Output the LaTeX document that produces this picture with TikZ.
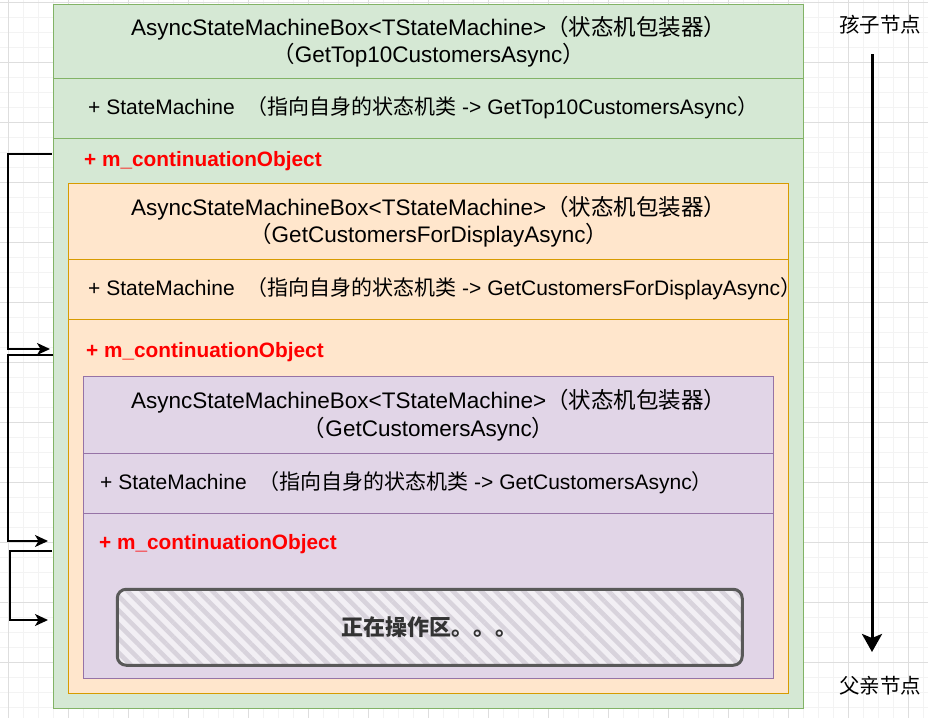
\documentclass[tikz,border=0pt]{standalone}
\usepackage{fontspec}
\setmainfont{Liberation Sans}
\newfontfamily\zhfont{Noto Sans CJK SC}
\usetikzlibrary{arrows.meta,patterns.meta}
\newcommand\zh[1]{{\zhfont #1}}
\definecolor{grnF}{HTML}{D5E8D4}
\definecolor{grnS}{HTML}{82B366}
\definecolor{orgF}{HTML}{FFE6CC}
\definecolor{orgS}{HTML}{D79B00}
\definecolor{purF}{HTML}{E1D5E7}
\definecolor{purS}{HTML}{9673A6}
\definecolor{hatchBg}{HTML}{F2EFF4}
\definecolor{hatchLn}{HTML}{D8D3DC}
\definecolor{hatchDr}{HTML}{595959}
\definecolor{gridMaj}{HTML}{DEDEDE}
\definecolor{gridMin}{HTML}{F3F3F3}
\begin{document}
\begin{tikzpicture}[x=1pt,y=-1pt,
  panel/.style={draw=#1S, fill=#1F, line width=1.3pt, rectangle, inner sep=0pt, anchor=north west},
  hdr/.style={align=center, inner sep=0pt, font=\fontsize{22.5pt}{27.5pt}\selectfont},
  rowtxt/.style={anchor=west, inner sep=0pt, font=\fontsize{21pt}{25pt}\selectfont},
  redtxt/.style={anchor=west, inner sep=0pt, text=red, font=\bfseries\fontsize{20.8pt}{24pt}\selectfont},
  conn/.style={draw=black, line width=1.5pt, -{Stealth[length=13pt,width=12pt,inset=3.5pt]}},
  bigarrow/.style={draw=black, line width=3pt, -{Stealth[length=18pt,width=20pt,inset=4pt]}},
  sidelabel/.style={inner sep=0pt, font=\zhfont\fontsize{20.5pt}{25pt}\selectfont},
  workbox/.style={draw=hatchDr, line width=3pt, rounded corners=9pt, anchor=north west,
    preaction={fill=hatchBg}, pattern={Lines[angle=-45,distance=10pt,line width=4.5pt]}, pattern color=hatchLn,
    inner sep=0pt, text=black!80, font=\zhfont\bfseries\fontsize{22pt}{26pt}\selectfont}
]
\useasboundingbox (0,0) rectangle (928,718);
\fill[white] (0,0) rectangle (928,718);
% grid
\foreach \gx in {8,23,...,923} \draw[gridMin, line width=0.6pt] (\gx,0) -- (\gx,718);
\foreach \gy in {2,17,...,717} \draw[gridMin, line width=0.6pt] (0,\gy) -- (928,\gy);
\foreach \gx in {8,68,...,908} \draw[gridMaj, line width=0.8pt] (\gx,0) -- (\gx,718);
\foreach \gy in {2,62,...,662} \draw[gridMaj, line width=0.8pt] (0,\gy) -- (928,\gy);

% green (outer) box
\node[panel=grn, minimum width=750pt, minimum height=74pt] (gHead) at (53,4) {};
\node[panel=grn, minimum width=750pt, minimum height=60pt] (gRow) at (53,78) {};
\node[panel=grn, minimum width=750pt, minimum height=570pt] (gBody) at (53,138) {};
\node[hdr] (gTitle) at (gHead.center) {AsyncStateMachineBox<TStateMachine>\zh{（状态机包装器）}\\\zh{（}GetTop10CustomersAsync\zh{）}};
\node[rowtxt] (gSM) at (88,108) {+ StateMachine \ \zh{（指向自身的状态机类} -> GetTop10CustomersAsync\zh{）}};
\node[redtxt] (gCont) at (84,161) {+ m\_continuationObject};

% orange (middle) box
\node[panel=org, minimum width=720pt, minimum height=76pt] (oHead) at (68,183) {};
\node[panel=org, minimum width=720pt, minimum height=60pt] (oRow) at (68,259) {};
\node[panel=org, minimum width=720pt, minimum height=374pt] (oBody) at (68,319) {};
\node[hdr] (oTitle) at (oHead.center) {AsyncStateMachineBox<TStateMachine>\zh{（状态机包装器）}\\\zh{（}GetCustomersForDisplayAsync\zh{）}};
\node[rowtxt] (oSM) at (88,289) {+ StateMachine \ \zh{（指向自身的状态机类} -> GetCustomersForDisplayAsync\zh{）}};
\node[redtxt] (oCont) at (86,352) {+ m\_continuationObject};

% purple (inner) box
\node[panel=pur, minimum width=690pt, minimum height=77pt] (pHead) at (83,376) {};
\node[panel=pur, minimum width=690pt, minimum height=60pt] (pRow) at (83,453) {};
\node[panel=pur, minimum width=690pt, minimum height=165pt] (pBody) at (83,513) {};
\node[hdr] (pTitle) at (pHead.center) {AsyncStateMachineBox<TStateMachine>\zh{（状态机包装器）}\\\zh{（}GetCustomersAsync\zh{）}};
\node[rowtxt] (pSM) at (100,483) {+ StateMachine \ \zh{（指向自身的状态机类} -> GetCustomersAsync\zh{）}};
\node[redtxt] (pCont) at (99,544) {+ m\_continuationObject};

% working area
\node[workbox, minimum width=625pt, minimum height=76pt] (work) at (115,587) {正在操作区。。。};

% left elbow connectors
\coordinate (c1s) at (52,154);
\coordinate (c1e) at (50,349);
\coordinate (c2s) at (53,355);
\coordinate (c2e) at (48,541);
\coordinate (c3s) at (52,551);
\coordinate (c3e) at (48,620);
\draw[conn] (c1s) -- ++(-44,0) |- (c1e);
\draw[conn] (c2s) -- ++(-45,0) |- (c2e);
\draw[conn] (c3s) -- ++(-42,0) |- (c3e);

% right side: child -> parent
\node[sidelabel] (kid) at (880,25) {孩子节点};
\node[sidelabel] (par) at (880,686) {父亲节点};
\coordinate (arrTop) at (872,54);
\coordinate (arrBot) at (872,652);
\draw[bigarrow] (arrTop) -- (arrBot);
\end{tikzpicture}
\end{document}
